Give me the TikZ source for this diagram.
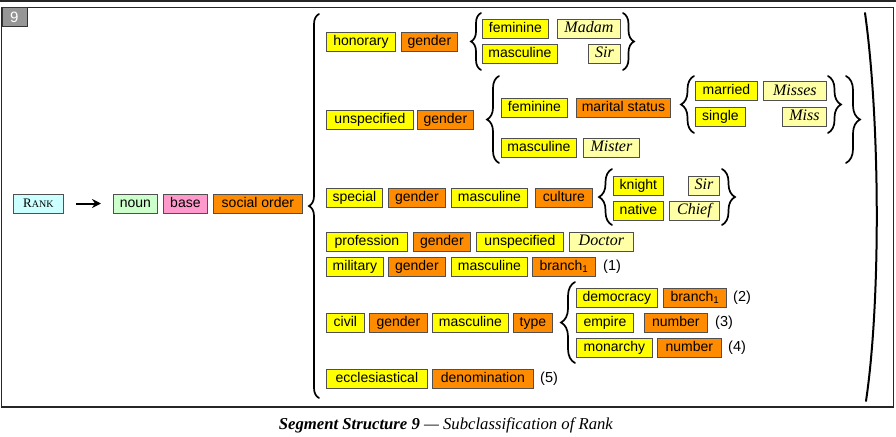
\documentclass[tikz,border=0pt]{standalone}
\usepackage{fontspec}
\setmainfont{Liberation Sans}
\newfontfamily\seriffam{Liberation Serif}
\usetikzlibrary{decorations.pathreplacing,arrows.meta}
\definecolor{yel}{RGB}{255,255,0}
\definecolor{org}{RGB}{255,140,0}
\definecolor{lyel}{RGB}{255,255,165}
\definecolor{cyn}{RGB}{204,255,255}
\definecolor{grn}{RGB}{204,255,204}
\definecolor{pnk}{RGB}{255,153,204}
\definecolor{bord}{RGB}{80,80,80}
\definecolor{numgray}{RGB}{150,150,150}
\tikzset{
  lbl/.style={draw=bord, line width=0.8pt, minimum height=19pt, inner sep=0pt, anchor=west,
    text height=10.5pt, text depth=3pt, font=\fontsize{14}{15}\selectfont},
  yb/.style={lbl, fill=yel},
  ob/.style={lbl, fill=org},
  lb/.style={lbl, fill=lyel, text height=11pt, text depth=3pt, font=\seriffam\itshape\fontsize{16}{17}\selectfont},
  numtxt/.style={anchor=west, inner sep=0pt, text height=10.5pt, text depth=3pt, font=\fontsize{14.5}{15}\selectfont},
  brc/.style={decorate, line width=1.7pt, line cap=round},
  arr/.style={-{Stealth[length=9pt,width=9pt]}, line width=2pt}
}
\begin{document}
\begin{tikzpicture}[x=1pt,y=-1pt]
\useasboundingbox (0,0) rectangle (896,436);
% top bar and frame
\draw[line width=2pt, black!85] (0,1) -- (896,1);
\draw[line width=1.3pt, black!85] (1.5,7.5) rectangle (893.5,407);
\node[draw=black!80, fill=numgray, line width=0.8pt, minimum width=25pt, minimum height=19pt, inner sep=0pt,
  anchor=north west, text=white, font=\fontsize{15}{16}\selectfont] (num) at (1.5,7.5) {9};

% left part
\node[lbl, fill=cyn, minimum width=50, text height=9pt, text depth=1pt, font=\seriffam\fontsize{13}{14}\selectfont] (rank) at (13,203.5)
  {R{\fontsize{10}{10}\selectfont ANK}};
\node[lbl, fill=grn, minimum width=44] (noun) at (113,203.5) {noun};
\node[lbl, fill=pnk, minimum width=44] (base) at (163,203.5) {base};
\node[ob, minimum width=89] (soc) at (213,203.5) {social order};
\coordinate (arS) at (76,203.5);
\coordinate (arE) at (101,203.5);
\draw[arr] (arS) -- (arE);

% main brace and paren
\coordinate (mbB) at (319,398);
\coordinate (mbT) at (319,14);
\draw[brc, decoration={brace, amplitude=10pt}] (mbB) -- (mbT);
\coordinate (rpT) at (865,13);
\coordinate (rpB) at (866,401);
\draw[line width=2pt, line cap=round] (rpT) .. controls (880,120) and (881,300) .. (rpB);

% honorary
\node[yb, minimum width=69] (hon) at (326,41.5) {honorary};
\node[ob, minimum width=56] (gen1) at (401,41.5) {gender};
\coordinate (b1B) at (481,70); \coordinate (b1T) at (481,13);
\draw[brc, decoration={brace, amplitude=10pt}] (b1B) -- (b1T);
\node[yb, minimum width=66] (fem1) at (482,28.5) {feminine};
\node[lb, minimum width=63] (madam) at (557,28.5) {Madam};
\node[yb, minimum width=75] (masc1) at (482,53.5) {masculine};
\node[lb, minimum width=32] (sir1) at (588,53.5) {Sir};
\coordinate (b1cT) at (623,13); \coordinate (b1cB) at (623,70);
\draw[brc, decoration={brace, amplitude=11pt}] (b1cT) -- (b1cB);

% unspecified
\node[yb, minimum width=87] (unsp) at (326,119.5) {unspecified};
\node[ob, minimum width=56] (gen2) at (417,119.5) {gender};
\coordinate (b2B) at (499,163); \coordinate (b2T) at (499,76);
\draw[brc, decoration={brace, amplitude=12pt}] (b2B) -- (b2T);
\node[yb, minimum width=66] (fem2) at (501,107.5) {feminine};
\node[ob, minimum width=94] (mar) at (576,107.5) {marital status};
\coordinate (b3B) at (694,133); \coordinate (b3T) at (694,76);
\draw[brc, decoration={brace, amplitude=13pt}] (b3B) -- (b3T);
\node[yb, minimum width=62] (marr) at (695,91) {married};
\node[lb, minimum width=63] (misses) at (763,91) {Misses};
\node[yb, minimum width=50] (sing) at (695,116.5) {single};
\node[lb, minimum width=44] (miss) at (782,116.5) {Miss};
\coordinate (b3cT) at (828,76); \coordinate (b3cB) at (828,133);
\draw[brc, decoration={brace, amplitude=13pt}] (b3cT) -- (b3cB);
\node[yb, minimum width=75] (masc2) at (501,147.5) {masculine};
\node[lb, minimum width=56] (mister) at (583,147.5) {Mister};
\coordinate (b2cT) at (846,76); \coordinate (b2cB) at (846,163);
\draw[brc, decoration={brace, amplitude=14pt}] (b2cT) -- (b2cB);

% special
\node[yb, minimum width=56] (spec) at (326,197.5) {special};
\node[ob, minimum width=57] (gen3) at (388,197.5) {gender};
\node[yb, minimum width=76] (masc3) at (451,197.5) {masculine};
\node[ob, minimum width=57] (cult) at (535,197.5) {culture};
\coordinate (b4B) at (612,225); \coordinate (b4T) at (612,169);
\draw[brc, decoration={brace, amplitude=13pt}] (b4B) -- (b4T);
\node[yb, minimum width=50] (knight) at (613,185.5) {knight};
\node[lb, minimum width=31] (sir2) at (688,185.5) {Sir};
\node[yb, minimum width=50] (native) at (613,210.5) {native};
\node[lb, minimum width=50] (chief) at (669,210.5) {Chief};
\coordinate (b4cT) at (722,169); \coordinate (b4cB) at (722,225);
\draw[brc, decoration={brace, amplitude=13pt}] (b4cT) -- (b4cB);

% profession
\node[yb, minimum width=81] (prof) at (326,241.5) {profession};
\node[ob, minimum width=57] (gen4) at (413,241.5) {gender};
\node[yb, minimum width=87] (unsp2) at (476,241.5) {unspecified};
\node[lb, minimum width=64] (doctor) at (569,241.5) {Doctor};

% military
\node[yb, minimum width=57] (mil) at (326,266.5) {military};
\node[ob, minimum width=57] (gen5) at (388,266.5) {gender};
\node[yb, minimum width=76] (masc4) at (451,266.5) {masculine};
\node[ob, minimum width=63] (br1) at (532,266.5) {branch\textsubscript{1}};
\node[numtxt] (n1) at (603,266.5) {(1)};

% civil
\node[yb, minimum width=38] (civil) at (326,322.5) {civil};
\node[ob, minimum width=58] (gen6) at (369,322.5) {gender};
\node[yb, minimum width=76] (masc5) at (432,322.5) {masculine};
\node[ob, minimum width=39] (type) at (513,322.5) {type};
\coordinate (b5B) at (575,363); \coordinate (b5T) at (575,282);
\draw[brc, decoration={brace, amplitude=14pt}] (b5B) -- (b5T);
\node[yb, minimum width=81] (dem) at (576,297.5) {democracy};
\node[ob, minimum width=63] (br2) at (663,297.5) {branch\textsubscript{1}};
\node[numtxt] (n2) at (733,297.5) {(2)};
\node[yb, minimum width=57] (emp) at (576,322.5) {empire};
\node[ob, minimum width=63] (numb1) at (644,322.5) {number};
\node[numtxt] (n3) at (715,322.5) {(3)};
\node[yb, minimum width=76] (mon) at (576,347.5) {monarchy};
\node[ob, minimum width=64] (numb2) at (657,347.5) {number};
\node[numtxt] (n4) at (728,347.5) {(4)};

% ecclesiastical
\node[yb, minimum width=101] (eccl) at (326,378.5) {ecclesiastical};
\node[ob, minimum width=101] (denom) at (432,378.5) {denomination};
\node[numtxt] (n5) at (540,378.5) {(5)};

% caption
\node[font=\seriffam\fontsize{16.7}{18}\selectfont] (cap) at (446,425)
  {\textbf{\textit{Segment Structure 9}} \textit{— Subclassification of Rank}};
\end{tikzpicture}
\end{document}
